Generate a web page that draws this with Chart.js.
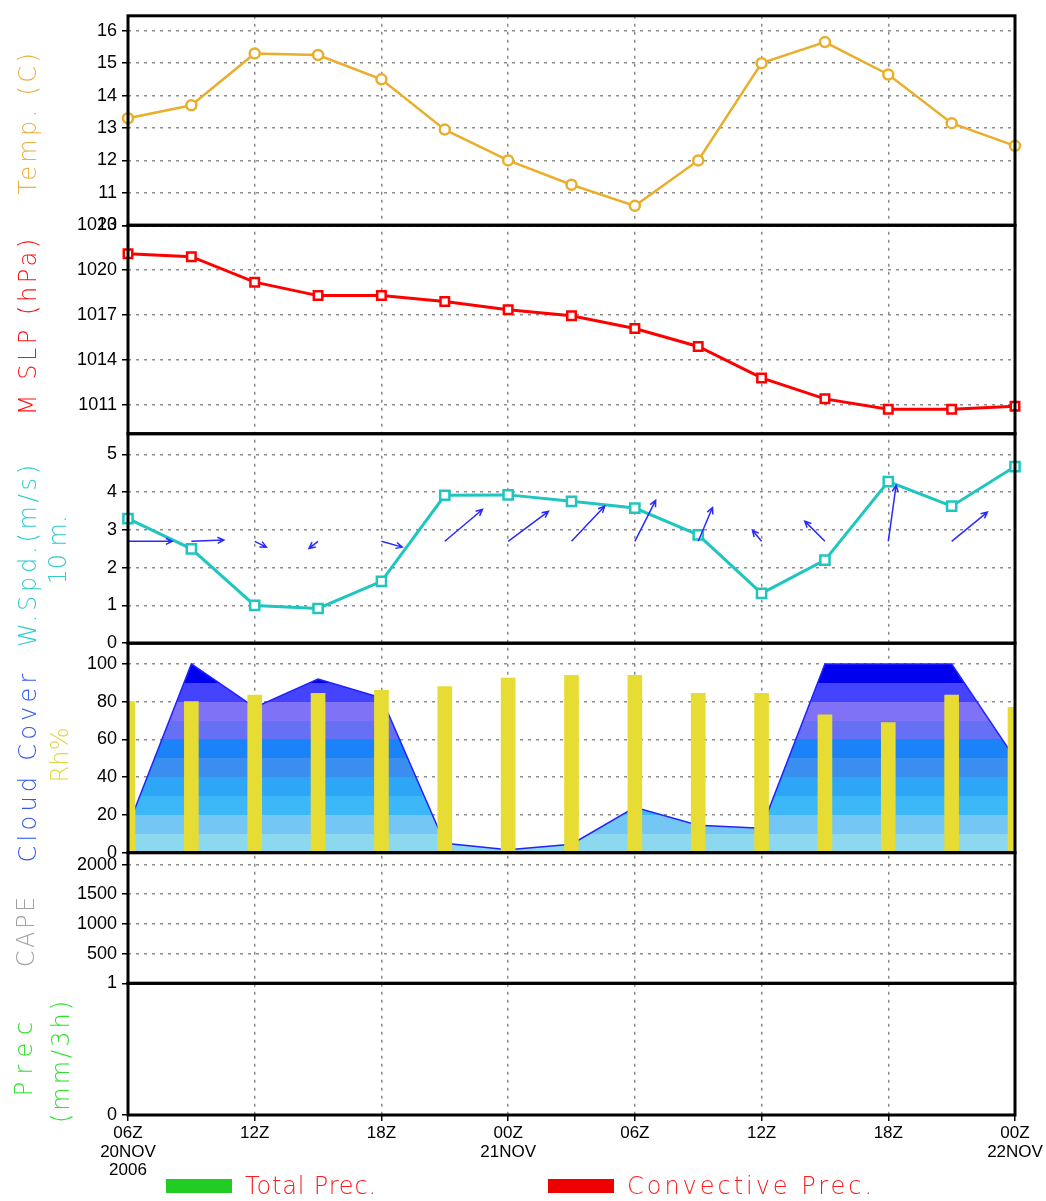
<!DOCTYPE html>
<html>
<head>
<meta charset="utf-8">
<title>Meteogram</title>
<script src="https://cdn.jsdelivr.net/npm/chart.js@4.4.1/dist/chart.umd.min.js"></script>
<style>
  body { margin: 0; background: #fff; }
  canvas { display: block; }
</style>
</head>
<body>
<canvas id="meteogram" width="1046" height="1201"></canvas>
<script>
// 3-hourly steps, 06Z 20NOV2006 -> 00Z 22NOV
const times = ['06Z', '09Z', '12Z', '15Z', '18Z', '21Z', '00Z', '03Z', '06Z', '09Z', '12Z', '15Z', '18Z', '21Z', '00Z'];
const xTickLabels = [['06Z', '20NOV', '2006'], '', '12Z', '', '18Z', '', ['00Z', '21NOV'], '', '06Z', '', '12Z', '', '18Z', '', ['00Z', '22NOV']];

const temperature = [13.3, 13.7, 15.3, 15.25, 14.5, 12.95, 12.0, 11.25, 10.6, 12.0, 15.0, 15.65, 14.65, 13.15, 12.45];
const mslp = [1021.1, 1020.9, 1019.2, 1018.3, 1018.3, 1017.9, 1017.35, 1016.95, 1016.1, 1014.9, 1012.8, 1011.4, 1010.7, 1010.7, 1010.9];
const windSpeed = [3.3, 2.5, 1.0, 0.92, 1.64, 3.92, 3.93, 3.76, 3.58, 2.87, 1.32, 2.2, 4.28, 3.63, 4.68];
// wind vector components (m/s, v positive = northward)
const windU = [3.4, 2.5, 0.9, -0.7, 1.6, 2.9, 3.1, 2.55, 1.6, 1.1, -0.7, -1.55, 0.6, 2.75, 3.0];
const windV = [0, 0.1, -0.45, -0.55, -0.45, 2.45, 2.3, 2.7, 3.15, 2.6, 0.85, 1.55, 4.3, 2.25, 2.5];
const cloudCover = [14, 100, 77, 92, 82, 5, 1.5, 4.5, 24, 14.5, 13, 100, 100, 100, 50];
const relHumidity = [80, 80, 83.5, 84.5, 86, 88, 92.5, 94, 94, 84.5, 84.5, 73, 69, 83.5, 77];
const totalPrec = [0, 0, 0, 0, 0, 0, 0, 0, 0, 0, 0, 0, 0, 0, 0];
const convPrec = [0, 0, 0, 0, 0, 0, 0, 0, 0, 0, 0, 0, 0, 0, 0];

const tempTicks = [10, 11, 12, 13, 14, 15, 16];
const mslpTicks = [1011, 1014, 1017, 1020, 1023];
const windTicks = [0, 1, 2, 3, 4, 5];
const cloudTicks = [0, 20, 40, 60, 80, 100];
const capeTicks = [500, 1000, 1500, 2000];
const precTicks = [0, 1];

// cloud cover shading, one colour per 10%
const cloudBands = ['#8cd8ee', '#74c6f4', '#3cb8f8', '#2ea6f6', '#3a8ef0', '#1c82f8', '#6670f4', '#7f72f6', '#4444ff', '#0000ee'];

const FONT = '"Liberation Sans", Arial, sans-serif';
const GRID = '#8c8c8c';
const ARROW_PX = 13;     // pixels per m/s for wind arrows
const ARROW_BASE = 2.7;  // wind-panel value where arrows start

function yAxis(min, max, ticks, weight) {
  return {
    type: 'linear',
    position: 'left',
    stack: 'panels',
    stackWeight: weight,
    min: min,
    max: max,
    afterBuildTicks: (s) => { s.ticks = ticks.map(v => ({ value: v })); },
    afterFit: (s) => { s.width = 128; },
    grid: { color: GRID, lineWidth: 1.5, tickLength: 6, tickColor: '#000', tickWidth: 1.5 },
    border: { display: false, dash: [3, 5] },
    ticks: { autoSkip: false, color: '#000', padding: 5, font: { family: FONT, size: 18 }, callback: (v) => String(v) }
  };
}

function cloudGradient(context) {
  const chart = context.chart;
  if (!chart.chartArea) return cloudBands[0];
  const y = chart.scales.yC;
  const g = chart.ctx.createLinearGradient(0, y.getPixelForValue(0), 0, y.getPixelForValue(100));
  cloudBands.forEach((c, i) => {
    g.addColorStop(i / cloudBands.length, c);
    g.addColorStop((i + 1) / cloudBands.length - 0.0001, c);
  });
  return g;
}

const panelFrames = {
  id: 'panelFrames',
  afterDraw(chart) {
    const { ctx, chartArea } = chart;
    ctx.save();
    ctx.strokeStyle = '#000';
    ctx.lineWidth = 3;
    ['yT', 'yP', 'yW', 'yC', 'yCape', 'yR'].forEach(id => {
      const s = chart.scales[id];
      ctx.strokeRect(chartArea.left, s.top, chartArea.right - chartArea.left, s.bottom - s.top);
    });
    ctx.restore();
  }
};

const windArrows = {
  id: 'windArrows',
  afterDatasetsDraw(chart) {
    const { ctx, chartArea, scales } = chart;
    const y0 = scales.yW.getPixelForValue(ARROW_BASE);
    ctx.save();
    ctx.beginPath();
    ctx.rect(chartArea.left, chartArea.top, chartArea.right - chartArea.left, chartArea.bottom - chartArea.top);
    ctx.clip();
    ctx.strokeStyle = '#2a2aff';
    ctx.lineWidth = 1.5;
    windU.forEach((u, i) => {
      const x0 = scales.x.getPixelForValue(i);
      const x1 = x0 + u * ARROW_PX;
      const y1 = y0 - windV[i] * ARROW_PX;
      const ang = Math.atan2(y1 - y0, x1 - x0);
      ctx.beginPath();
      ctx.moveTo(x0, y0);
      ctx.lineTo(x1, y1);
      ctx.moveTo(x1 - 7 * Math.cos(ang - 0.45), y1 - 7 * Math.sin(ang - 0.45));
      ctx.lineTo(x1, y1);
      ctx.lineTo(x1 - 7 * Math.cos(ang + 0.45), y1 - 7 * Math.sin(ang + 0.45));
      ctx.stroke();
    });
    ctx.restore();
  }
};

// rotated axis titles in the left margin
const axisTitles = [
  { text: 'Temp. (C)', color: '#eab040', x: 30, y: 124, len: 145 },
  { text: 'M SLP (hPa)', color: '#ff1010', x: 30, y: 327, len: 180 },
  { text: 'W.Spd.(m/s)', color: '#2ccccc', x: 30, y: 556, len: 186 },
  { text: '10 m.', color: '#2ccccc', x: 60, y: 550, len: 65 },
  { text: 'Cloud Cover', color: '#3058f0', x: 30, y: 768, len: 193 },
  { text: 'Rh%', color: '#e0d840', x: 62, y: 755, len: 55 },
  { text: 'CAPE', color: '#a0a0a0', x: 28, y: 932, len: 73 },
  { text: 'Prec', color: '#30e030', x: 26, y: 1059, len: 82 },
  { text: '(mm/3h)', color: '#30e030', x: 63, y: 1062, len: 125 }
];

function spacedText(ctx, text, len) {
  ctx.letterSpacing = '0px';
  const w = ctx.measureText(text).width;
  const sp = Math.max(0, (len - w) / text.length);
  ctx.letterSpacing = sp + 'px';
  return sp;
}

const titlesPlugin = {
  id: 'axisTitles',
  afterDraw(chart) {
    const ctx = chart.ctx;
    ctx.save();
    ctx.font = '200 24px "DejaVu Sans", ' + FONT;
    ctx.textAlign = 'center';
    ctx.textBaseline = 'middle';
    axisTitles.forEach(t => {
      ctx.save();
      ctx.translate(t.x, t.y);
      ctx.rotate(-Math.PI / 2);
      ctx.fillStyle = t.color;
      const sp = spacedText(ctx, t.text, t.len);
      ctx.fillText(t.text, sp / 2, 0);
      ctx.restore();
    });
    ctx.restore();
  }
};

const legendPlugin = {
  id: 'precLegend',
  afterDraw(chart) {
    const ctx = chart.ctx;
    const items = chart.data.datasets.filter(d => d.yAxisID === 'yR');
    const boxX = [166, 548];
    const textLen = [132, 248];
    ctx.save();
    ctx.font = '200 24px "DejaVu Sans", ' + FONT;
    ctx.textBaseline = 'alphabetic';
    items.forEach((d, i) => {
      ctx.fillStyle = d.backgroundColor;
      ctx.fillRect(boxX[i], 1179, 66, 14);
      ctx.fillStyle = '#ff1a1a';
      spacedText(ctx, d.label, textLen[i]);
      ctx.fillText(d.label, boxX[i] + 79, 1194);
    });
    ctx.restore();
  }
};

new Chart(document.getElementById('meteogram'), {
  type: 'line',
  data: {
    labels: times,
    datasets: [
      {
        label: 'Temp', data: temperature, yAxisID: 'yT',
        borderColor: '#e9ae2c', borderWidth: 2.5, backgroundColor: '#fff',
        pointStyle: 'circle', pointRadius: 5, pointBorderWidth: 2.5, tension: 0
      },
      {
        label: 'MSLP', data: mslp, yAxisID: 'yP',
        borderColor: '#ff0000', borderWidth: 3, backgroundColor: '#fff',
        pointStyle: 'rect', pointRadius: 6, pointBorderWidth: 2.5, tension: 0
      },
      {
        label: 'Wind speed', data: windSpeed, yAxisID: 'yW',
        borderColor: '#1fc6c0', borderWidth: 3, backgroundColor: '#fff',
        pointStyle: 'rect', pointRadius: 6.5, pointBorderWidth: 2.5, tension: 0
      },
      {
        type: 'bar', label: 'Rh%', data: relHumidity, yAxisID: 'yC',
        backgroundColor: '#e6dc34', barThickness: 14, grouped: false, order: -1
      },
      {
        label: 'Cloud Cover', data: cloudCover, yAxisID: 'yC',
        borderColor: '#2222ff', borderWidth: 1.5, backgroundColor: cloudGradient,
        fill: 'origin', pointRadius: 0, tension: 0, order: 5
      },
      {
        type: 'bar', label: 'Total Prec.', data: totalPrec, yAxisID: 'yR',
        backgroundColor: '#22cc22', borderWidth: 0, barThickness: 14, grouped: false
      },
      {
        type: 'bar', label: 'Convective Prec.', data: convPrec, yAxisID: 'yR',
        backgroundColor: '#ee0000', borderWidth: 0, barThickness: 14, grouped: false
      }
    ]
  },
  options: {
    responsive: false,
    animation: false,
    devicePixelRatio: 1,
    layout: { padding: { top: 13, right: 31, left: 0, bottom: 0 } },
    plugins: { legend: { display: false }, tooltip: { enabled: false } },
    scales: {
      x: {
        type: 'category',
        offset: false,
        afterFit: (s) => { s.height = 86; },
        grid: {
          offset: false,
          color: (c) => (c.index % 2 === 0 && c.index > 0 && c.index < times.length - 1) ? GRID : 'rgba(0,0,0,0)',
          lineWidth: 1.5, tickLength: 6, tickWidth: 1.5,
          tickColor: (c) => c.index % 2 === 0 ? '#000' : 'rgba(0,0,0,0)'
        },
        border: { display: false, dash: [3, 5] },
        ticks: {
          autoSkip: false, maxRotation: 0, color: '#000', padding: 3,
          font: { family: FONT, size: 17, lineHeight: 1.1 },
          callback: (v, i) => xTickLabels[i]
        }
      },
      // stacked panels, listed bottom to top
      yR: yAxis(0, 1, precTicks, 132),
      yCape: yAxis(0, 2200, capeTicks, 131),
      yC: yAxis(0, 111, cloudTicks, 210),
      yW: yAxis(0, 5.55, windTicks, 210),
      yP: yAxis(1009.07, 1023, mslpTicks, 209),
      yT: yAxis(10, 16.46, tempTicks, 210)
    }
  },
  plugins: [windArrows, panelFrames, titlesPlugin, legendPlugin]
});
</script>
</body>
</html>
